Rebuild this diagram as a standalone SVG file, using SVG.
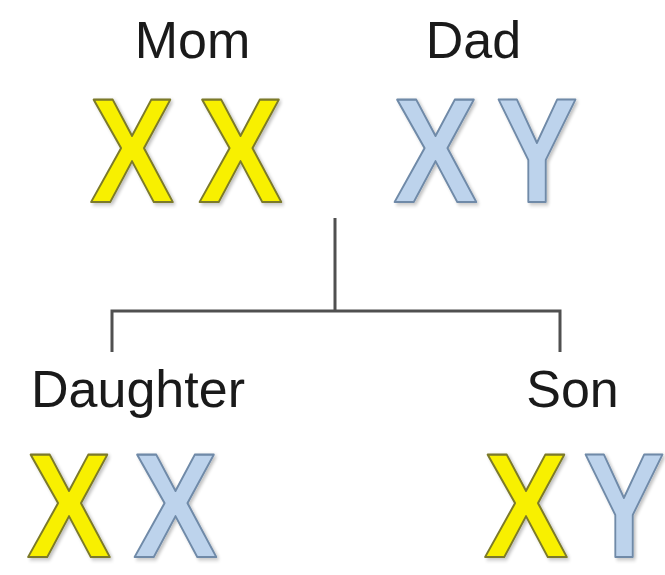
<svg xmlns="http://www.w3.org/2000/svg" width="665" height="575" viewBox="0 0 665 575">
<defs>
<filter id="sh" x="-20%" y="-20%" width="140%" height="140%">
<feGaussianBlur in="SourceAlpha" stdDeviation="2"/>
<feOffset dx="2" dy="2" result="b"/>
<feComponentTransfer><feFuncA type="linear" slope="0.25"/></feComponentTransfer>
<feMerge><feMergeNode/><feMergeNode in="SourceGraphic"/></feMerge>
</filter>
</defs>
<style>
.lbl{font-family:"Liberation Sans",Arial,sans-serif;font-size:52px;fill:#1a1a1a;text-anchor:middle}
.chr{font-family:"Liberation Sans",Arial,sans-serif;font-weight:bold;font-size:148px;text-anchor:middle;stroke-width:2.2;stroke-linejoin:round;filter:url(#sh)}
.yel{fill:#f8f000;stroke:#7c7a2a}
.blu{fill:#bdd3ec;stroke:#6f8aa8}
.con{fill:none;stroke:#505050;stroke-width:3}
</style>
<rect width="665" height="575" fill="#ffffff"/>
<g id="connectors">
<path class="con" d="M335 218 V311 M112 352 V311 H560 V352"/>
</g>
<g id="mom">
<text class="lbl" x="192.5" y="58">Mom</text>
<text class="chr yel" transform="translate(132 202) scale(0.85 1)">X</text>
<text class="chr yel" transform="translate(240.5 202) scale(0.85 1)">X</text>
</g>
<g id="dad">
<text class="lbl" x="473.5" y="58">Dad</text>
<text class="chr blu" transform="translate(435.5 202) scale(0.85 1)">X</text>
<text class="chr blu" transform="translate(537 202) scale(0.82 1)">Y</text>
</g>
<g id="daughter">
<text class="lbl" x="138" y="407">Daughter</text>
<text class="chr yel" transform="translate(69 557) scale(0.85 1)">X</text>
<text class="chr blu" transform="translate(175.5 557) scale(0.85 1)">X</text>
</g>
<g id="son">
<text class="lbl" x="572.5" y="407">Son</text>
<text class="chr yel" transform="translate(526 557) scale(0.85 1)">X</text>
<text class="chr blu" transform="translate(624 557) scale(0.82 1)">Y</text>
</g>
</svg>
